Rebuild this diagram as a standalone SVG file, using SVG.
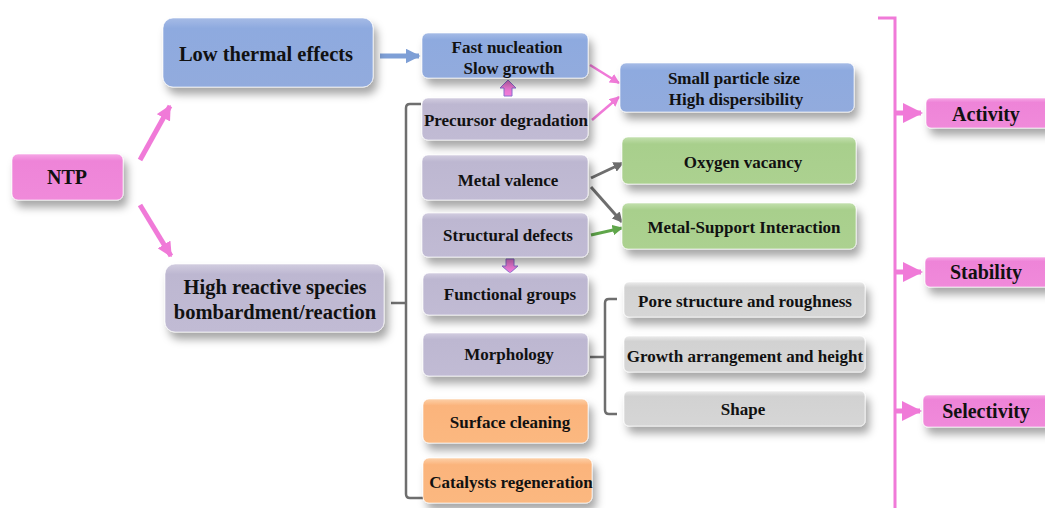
<svg xmlns="http://www.w3.org/2000/svg" width="1045" height="508" viewBox="0 0 1045 508">
<style>
text{font-family:"Liberation Serif","Times New Roman",serif;font-weight:bold;fill:#111;text-anchor:middle;dominant-baseline:central}
.big{font-size:20.5px}
.mid{font-size:17px}
.lab{font-size:20px}
.box{filter:url(#sh);stroke:#fff;stroke-opacity:.6;stroke-width:1}
.blue{fill:url(#gBlue)}
.pur{fill:url(#gPur)}
.grn{fill:url(#gGrn)}
.org{fill:url(#gOrg)}
.gry{fill:url(#gGry)}
.pnk{fill:url(#gPnk)}
.pk{stroke:#f07ad8;stroke-width:5;fill:none}
.gy{stroke:#6e6e6e;stroke-width:2.5;fill:none}
</style>
<defs>
<filter id="sh" x="-20%" y="-30%" width="150%" height="190%">
<feDropShadow dx="4" dy="7" stdDeviation="4" flood-color="#000" flood-opacity="0.35"/>
</filter>
<linearGradient id="gBlue" x1="0" y1="0" x2="0" y2="1"><stop offset="0" stop-color="#a6bbe6"/><stop offset="0.15" stop-color="#8eaadf"/><stop offset="1" stop-color="#92abdd"/></linearGradient>
<linearGradient id="gPur" x1="0" y1="0" x2="0" y2="1"><stop offset="0" stop-color="#d2cde0"/><stop offset="0.15" stop-color="#bdb7d1"/><stop offset="1" stop-color="#c1bbd4"/></linearGradient>
<linearGradient id="gGrn" x1="0" y1="0" x2="0" y2="1"><stop offset="0" stop-color="#c3e0ae"/><stop offset="0.15" stop-color="#a8cf8c"/><stop offset="1" stop-color="#acd190"/></linearGradient>
<linearGradient id="gOrg" x1="0" y1="0" x2="0" y2="1"><stop offset="0" stop-color="#fdd0a8"/><stop offset="0.15" stop-color="#fbb47c"/><stop offset="1" stop-color="#fbb880"/></linearGradient>
<linearGradient id="gGry" x1="0" y1="0" x2="0" y2="1"><stop offset="0" stop-color="#ececec"/><stop offset="0.15" stop-color="#d2d2d2"/><stop offset="1" stop-color="#d6d6d6"/></linearGradient>
<linearGradient id="gPnk" x1="0" y1="0" x2="0" y2="1"><stop offset="0" stop-color="#f6a6e6"/><stop offset="0.15" stop-color="#ee84d8"/><stop offset="1" stop-color="#f08ada"/></linearGradient>
<marker id="aPk" viewBox="0 0 10 10" refX="9" refY="5" markerWidth="3" markerHeight="3" orient="auto"><path d="M0,0 L10,5 L0,10 z" fill="#f07ad8"/></marker>
<marker id="aPk2" viewBox="0 0 10 10" refX="9" refY="5" markerWidth="4" markerHeight="4" orient="auto"><path d="M0,0 L10,5 L0,10 z" fill="#f07ad8"/></marker>
<marker id="aBl" viewBox="0 0 10 10" refX="9" refY="5" markerWidth="3" markerHeight="3" orient="auto"><path d="M0,0 L10,5 L0,10 z" fill="#7e9fd6"/></marker>
<marker id="aGy" viewBox="0 0 10 10" refX="9" refY="5" markerWidth="3.5" markerHeight="3.5" orient="auto"><path d="M0,0 L10,5 L0,10 z" fill="#6e6e6e"/></marker>
<marker id="aGn" viewBox="0 0 10 10" refX="9" refY="5" markerWidth="3.5" markerHeight="3.5" orient="auto"><path d="M0,0 L10,5 L0,10 z" fill="#5fa64a"/></marker>
</defs>
<rect width="1045" height="508" fill="#fff"/>

<g id="connectors">
<line class="pk" x1="140" y1="160" x2="170" y2="106" marker-end="url(#aPk)"/>
<line class="pk" x1="140" y1="205" x2="171" y2="256" marker-end="url(#aPk)"/>
<line x1="380" y1="56" x2="419" y2="56" stroke="#7e9fd6" stroke-width="5" marker-end="url(#aBl)"/>
<line x1="590" y1="65" x2="619" y2="83" stroke="#f07ad8" stroke-width="2.5" marker-end="url(#aPk2)" />
<line x1="592" y1="120" x2="619" y2="97" stroke="#f07ad8" stroke-width="2.5" marker-end="url(#aPk2)"/>
<line x1="591" y1="178" x2="623" y2="163" stroke="#6e6e6e" stroke-width="3" marker-end="url(#aGy)"/>
<line x1="591" y1="187" x2="622" y2="222" stroke="#6e6e6e" stroke-width="3" marker-end="url(#aGy)"/>
<line x1="591" y1="235" x2="622" y2="228" stroke="#5fa64a" stroke-width="3" marker-end="url(#aGn)"/>
<path d="M504,96 V88 H500 L508,80 L516,88 H512 V96 Z" fill="#f07ad8" stroke="#8a6fd0" stroke-width="1"/>
<path d="M506,259 V266 H502 L510,273 L518,266 H514 V259 Z" fill="#f07ad8" stroke="#8a6fd0" stroke-width="1"/>
<path class="gy" d="M421,104 H410 Q406,104 406,108 V494 Q406,498 410,498 H423"/>
<line class="gy" x1="391" y1="303" x2="406" y2="303"/>
<path class="gy" d="M617,299 H609 Q605,299 605,303 V410 Q605,414 609,414 H617"/>
<line class="gy" x1="590" y1="357" x2="605" y2="357"/>
<path d="M878,18 H895 V508" stroke="#f07ad8" stroke-width="3" fill="none"/>
<line class="pk" x1="895" y1="113" x2="921" y2="113" stroke-width="3" marker-end="url(#aPk2)"/>
<line class="pk" x1="895" y1="272" x2="921" y2="272" stroke-width="3" marker-end="url(#aPk2)"/>
<line class="pk" x1="895" y1="411" x2="920" y2="411" stroke-width="3" marker-end="url(#aPk2)"/>
</g>

<g id="ntp"><rect class="box pnk" x="12" y="154" width="111" height="46" rx="6"/><text class="lab" x="67" y="177">NTP</text></g>
<g id="low-thermal"><rect class="box blue" x="163" y="18" width="210" height="69" rx="10"/><text class="big" x="266" y="54">Low thermal effects</text></g>
<g id="high-reactive"><rect class="box pur" x="165" y="264" width="219" height="68" rx="10"/><text class="big" x="275" y="287">High reactive species</text><text class="big" x="275" y="312">bombardment/reaction</text></g>

<g id="fast-nucleation"><rect class="box blue" x="422" y="33" width="166" height="45" rx="6"/><text class="mid" x="507" y="47">Fast nucleation</text><text class="mid" x="509" y="68">Slow growth</text></g>
<g id="precursor"><rect class="box pur" x="422" y="98" width="166" height="42" rx="6"/><text class="mid" x="506" y="120">Precursor degradation</text></g>
<g id="metal-valence"><rect class="box pur" x="422" y="155" width="166" height="45" rx="6"/><text class="mid" x="508" y="180">Metal valence</text></g>
<g id="structural-defects"><rect class="box pur" x="422" y="213" width="166" height="44" rx="6"/><text class="mid" x="508" y="235">Structural defects</text></g>
<g id="functional-groups"><rect class="box pur" x="423" y="273" width="165" height="42" rx="6"/><text class="mid" x="510" y="294">Functional groups</text></g>
<g id="morphology"><rect class="box pur" x="423" y="333" width="165" height="43" rx="6"/><text class="mid" x="509" y="354">Morphology</text></g>
<g id="surface-cleaning"><rect class="box org" x="423" y="399" width="165" height="44" rx="6"/><text class="mid" x="510" y="422">Surface cleaning</text></g>
<g id="catalysts-regeneration"><rect class="box org" x="423" y="458" width="169" height="45" rx="6"/><text class="mid" x="511" y="482">Catalysts regeneration</text></g>

<g id="small-particle"><rect class="box blue" x="620" y="63" width="234" height="49" rx="6"/><text class="mid" x="734" y="78">Small particle size</text><text class="mid" x="736" y="99">High dispersibility</text></g>
<g id="oxygen-vacancy"><rect class="box grn" x="622" y="137" width="234" height="47" rx="6"/><text class="mid" x="743" y="162">Oxygen vacancy</text></g>
<g id="msi"><rect class="box grn" x="622" y="203" width="234" height="46" rx="6"/><text class="mid" x="744" y="227">Metal-Support Interaction</text></g>

<g id="pore"><rect class="box gry" x="624" y="282" width="241" height="35" rx="5"/><text class="mid" x="745" y="301">Pore structure and roughness</text></g>
<g id="growth"><rect class="box gry" x="624" y="336" width="241" height="36" rx="5"/><text class="mid" x="745" y="356">Growth arrangement and height</text></g>
<g id="shape"><rect class="box gry" x="624" y="391" width="241" height="35" rx="5"/><text class="mid" x="743" y="409">Shape</text></g>

<g id="activity"><rect class="box pnk" x="926" y="98" width="130" height="30" rx="5"/><text class="lab" x="986" y="114">Activity</text></g>
<g id="stability"><rect class="box pnk" x="925" y="257" width="130" height="30" rx="5"/><text class="lab" x="986" y="272">Stability</text></g>
<g id="selectivity"><rect class="box pnk" x="923" y="395" width="130" height="32" rx="5"/><text class="lab" x="986" y="411">Selectivity</text></g>
</svg>
